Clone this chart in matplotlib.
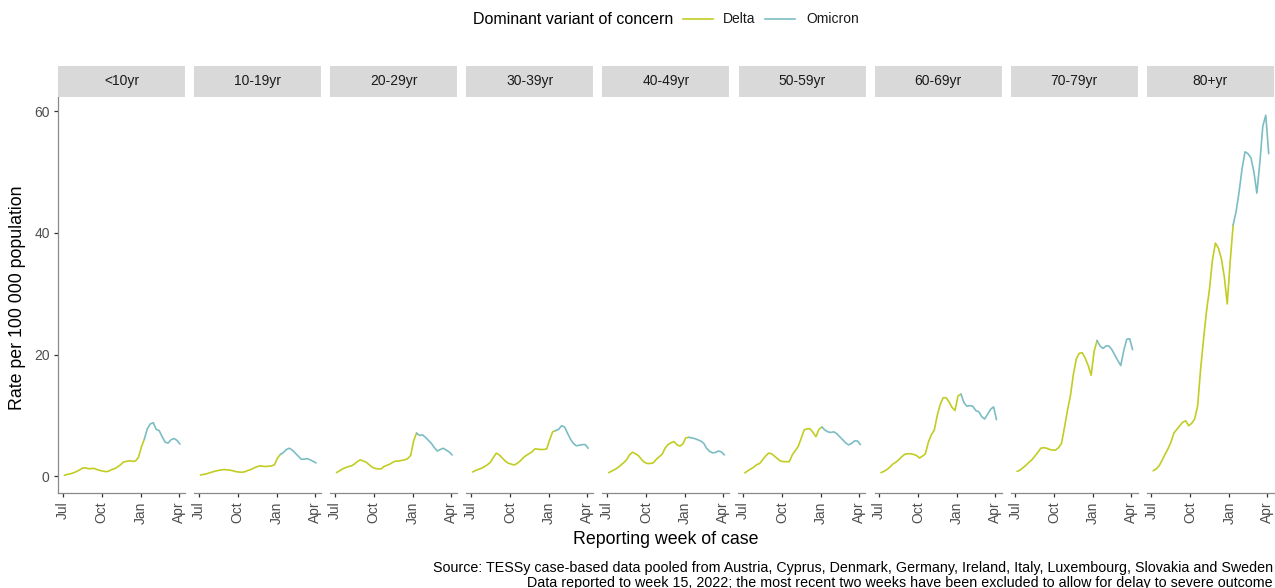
import numpy as np
import pandas as pd
import matplotlib
matplotlib.use("Agg")
import matplotlib.pyplot as plt
import matplotlib.dates as mdates
from matplotlib.lines import Line2D
from matplotlib.patches import Rectangle

plt.rcParams['font.family'] = ['Liberation Sans', 'DejaVu Sans']

# weekly severe-outcome rates per 100 000, one list per age group
weeks = pd.date_range("2021-07-05", periods=40, freq="7D")
age_groups = ["<10yr", "10-19yr", "20-29yr", "30-39yr", "40-49yr",
              "50-59yr", "60-69yr", "70-79yr", "80+yr"]

rate_lt10 = [0.15, 0.3, 0.4, 0.55, 0.75, 1.0, 1.3, 1.4, 1.25, 1.25, 1.3, 1.1, 0.95, 0.85, 0.75, 0.85, 1.1, 1.25, 1.55, 1.9,
             2.35, 2.45, 2.55, 2.45, 2.5, 3.1, 4.8, 6.1, 7.8, 8.6, 8.8, 7.7, 7.5, 6.5, 5.6, 5.45, 6.0, 6.2, 5.9, 5.3]
rate_10_19 = [0.2, 0.3, 0.4, 0.55, 0.7, 0.85, 0.95, 1.05, 1.1, 1.05, 1.0, 0.9, 0.75, 0.7, 0.65, 0.75, 0.95, 1.1, 1.35, 1.55,
              1.7, 1.65, 1.6, 1.65, 1.7, 1.9, 3.0, 3.6, 3.9, 4.4, 4.6, 4.3, 3.8, 3.3, 2.8, 2.8, 2.9, 2.7, 2.45, 2.2]
rate_20_29 = [0.6, 0.9, 1.2, 1.4, 1.6, 1.7, 2.0, 2.4, 2.7, 2.5, 2.3, 1.9, 1.5, 1.3, 1.2, 1.2, 1.6, 1.8, 2.0, 2.3,
              2.5, 2.5, 2.6, 2.7, 2.9, 3.4, 5.8, 7.1, 6.7, 6.8, 6.4, 5.9, 5.4, 4.7, 4.15, 4.4, 4.6, 4.3, 4.0, 3.5]
rate_30_39 = [0.7, 0.95, 1.15, 1.3, 1.6, 1.9, 2.3, 3.1, 3.8, 3.5, 3.0, 2.5, 2.15, 2.0, 1.85, 2.1, 2.5, 3.0, 3.4, 3.7,
              4.0, 4.5, 4.45, 4.4, 4.4, 4.5, 6.0, 7.3, 7.5, 7.7, 8.3, 8.1, 7.1, 6.1, 5.4, 5.0, 5.1, 5.2, 5.2, 4.6]
rate_40_49 = [0.6, 0.85, 1.1, 1.4, 1.8, 2.2, 2.7, 3.5, 3.95, 3.7, 3.4, 2.8, 2.3, 2.1, 2.1, 2.2, 2.75, 3.2, 3.6, 4.6,
              5.2, 5.5, 5.7, 5.2, 4.95, 5.3, 6.3, 6.4, 6.3, 6.2, 6.0, 5.8, 5.45, 4.6, 4.1, 3.85, 3.9, 4.15, 4.0, 3.5]
rate_50_59 = [0.55, 0.9, 1.2, 1.5, 1.9, 2.1, 2.7, 3.3, 3.8, 3.7, 3.3, 2.9, 2.5, 2.4, 2.4, 2.4, 3.5, 4.2, 4.9, 6.2,
              7.6, 7.8, 7.8, 7.2, 6.5, 7.7, 8.1, 7.6, 7.3, 7.2, 7.3, 7.0, 6.5, 6.0, 5.5, 5.15, 5.4, 5.8, 5.8, 5.2]
rate_60_69 = [0.6, 0.8, 1.1, 1.5, 2.0, 2.3, 2.7, 3.2, 3.6, 3.7, 3.7, 3.6, 3.4, 3.0, 3.3, 3.7, 5.6, 6.8, 7.6, 10.0,
              11.8, 12.9, 12.9, 12.2, 11.3, 10.8, 13.2, 13.5, 12.1, 11.5, 11.6, 11.5, 10.8, 10.6, 9.8, 9.4, 10.2, 11.0, 11.4, 9.3]
rate_70_79 = [0.8, 1.0, 1.4, 1.8, 2.3, 2.7, 3.3, 3.9, 4.6, 4.7, 4.6, 4.4, 4.3, 4.3, 4.7, 5.4, 8.0, 10.8, 13.2, 16.7,
              19.3, 20.2, 20.3, 19.4, 18.2, 16.6, 20.5, 22.3, 21.4, 21.0, 21.4, 21.4, 20.8, 19.9, 19.0, 18.2, 20.6, 22.5, 22.6, 20.8]
rate_80plus = [0.9, 1.2, 1.7, 2.6, 3.6, 4.5, 5.6, 7.1, 7.7, 8.3, 8.9, 9.1, 8.3, 8.7, 9.4, 11.5, 17.5, 22.5, 27.1, 30.7,
               35.5, 38.3, 37.5, 35.8, 32.8, 28.3, 35.3, 41.3, 43.5, 46.7, 50.5, 53.3, 53.0, 52.3, 50.0, 46.5, 51.5, 57.5, 59.3, 53.0]

rates = [rate_lt10, rate_10_19, rate_20_29, rate_30_39, rate_40_49,
         rate_50_59, rate_60_69, rate_70_79, rate_80plus]
# index of the first week where Omicron was dominant
omicron_start = [27, 27, 27, 28, 27, 26, 27, 27, 27]

DELTA = "#C1CD23"
OMICRON = "#7CBDC4"
AXIS_GREY = "#8a8a8a"
TICK_GREY = "#4d4d4d"

W, H = 1275, 588
fig = plt.figure(figsize=(W / 100, H / 100), dpi=100)


def frect(x0, y0, x1, y1):
    return [x0 / W, 1 - y1 / H, (x1 - x0) / W, (y1 - y0) / H]


month_ticks = pd.to_datetime(["2021-07-01", "2021-10-01", "2022-01-01", "2022-04-01"])
xlo, xhi = pd.Timestamp("2021-06-20"), pd.Timestamp("2022-04-16")

for i, (grp, vals, s) in enumerate(zip(age_groups, rates, omicron_start)):
    x0 = 58 + 136.1 * i
    ax = fig.add_axes(frect(x0, 97, x0 + 127, 493))
    ax.plot(weeks[:s + 1], vals[:s + 1], color=DELTA, lw=1.2, solid_capstyle="round")
    ax.plot(weeks[s:], vals[s:], color=OMICRON, lw=1.2, solid_capstyle="round")
    ax.set_xlim(xlo, xhi)
    ax.set_ylim(-2.75, 62.3)

    for side in ["top", "right"]:
        ax.spines[side].set_visible(False)
    ax.spines["bottom"].set_color(AXIS_GREY)
    ax.spines["bottom"].set_linewidth(0.9)
    ax.set_xticks(month_ticks)
    ax.xaxis.set_major_formatter(mdates.DateFormatter("%b"))
    ax.tick_params(axis="x", length=3, width=0.9, color="#333333", pad=3,
                   labelsize=10, labelcolor=TICK_GREY)
    for lab in ax.get_xticklabels():
        lab.set_rotation(90)
        lab.set_ha("center")
        lab.set_va("top")

    if i == 0:
        ax.spines["left"].set_color(AXIS_GREY)
        ax.spines["left"].set_linewidth(0.9)
        ax.set_yticks([0, 20, 40, 60])
        ax.tick_params(axis="y", length=3, width=0.9, color="#333333", pad=3,
                       labelsize=10, labelcolor=TICK_GREY)
    else:
        ax.spines["left"].set_visible(False)
        ax.set_yticks([])

    # facet strip
    fig.patches.append(Rectangle((x0 / W, 1 - 97 / H), 127 / W, 31 / H,
                                 transform=fig.transFigure, facecolor="#d9d9d9",
                                 edgecolor="none"))
    fig.text((x0 + 63.5) / W, 1 - 81.5 / H, grp, ha="center", va="center",
             fontsize=10, color="#1a1a1a")

fig.text(18 / W, 1 - 298 / H, "Rate per 100 000 population", rotation=90,
         ha="center", va="center", fontsize=12.8)
fig.text(666 / W, 1 - 540 / H, "Reporting week of case", ha="center",
         va="center", fontsize=12.8)

# legend across the top
ly = 1 - 19 / H
fig.text(473 / W, ly, "Dominant variant of concern", ha="left", va="center", fontsize=11.5)
fig.lines.append(Line2D([683 / W, 713 / W], [ly, ly], transform=fig.transFigure,
                        color=DELTA, lw=1.2))
fig.text(723 / W, ly, "Delta", ha="left", va="center", fontsize=10, color="#1a1a1a")
fig.lines.append(Line2D([765 / W, 795 / W], [ly, ly], transform=fig.transFigure,
                        color=OMICRON, lw=1.2))
fig.text(806 / W, ly, "Omicron", ha="left", va="center", fontsize=10, color="#1a1a1a")

fig.text(1273 / W, 1 - 568 / H,
         "Source: TESSy case-based data pooled from Austria, Cyprus, Denmark, Germany, "
         "Ireland, Italy, Luxembourg, Slovakia and Sweden",
         ha="right", va="center", fontsize=10.25)
fig.text(1273 / W, 1 - 582.5 / H,
         "Data reported to week 15, 2022; the most recent two weeks have been excluded "
         "to allow for delay to severe outcome",
         ha="right", va="center", fontsize=10.25)

fig.savefig("out.png", dpi=100, facecolor="white")
